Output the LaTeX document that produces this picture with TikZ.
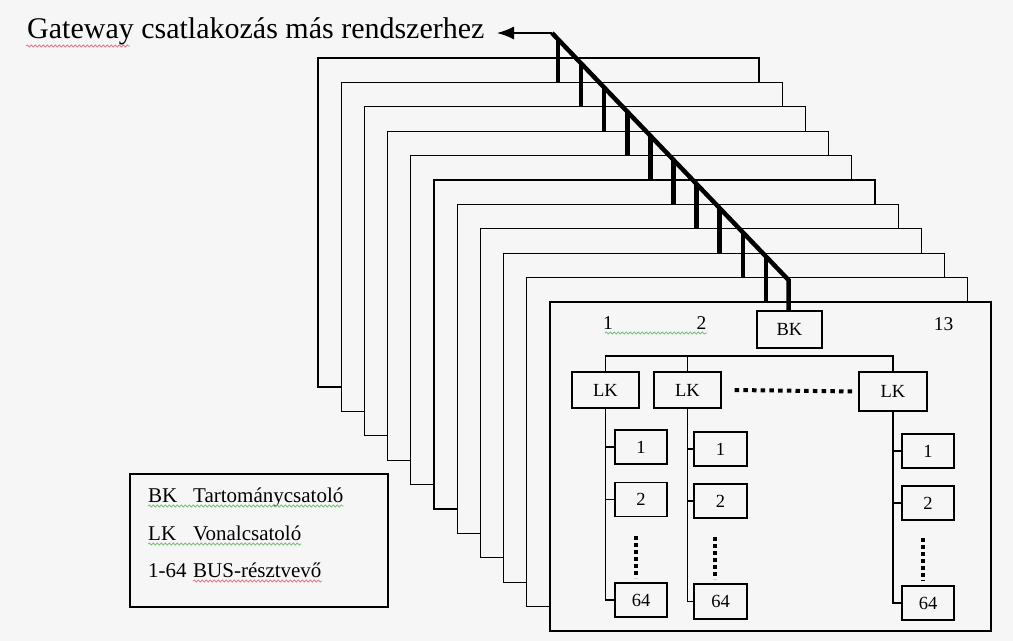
\documentclass[tikz,border=0pt]{standalone}
\usepackage{fontspec}
\setmainfont{Liberation Serif}
\usetikzlibrary{arrows.meta,decorations.pathmorphing,calc}
\definecolor{paper}{gray}{0.965}
\definecolor{wavegreen}{RGB}{125,190,125}
\definecolor{wavered}{RGB}{225,125,135}
\begin{document}
\begin{tikzpicture}[x=1pt,y=-1pt,
  frame/.style={draw=black,line width=1.3pt,fill=paper},
  thin/.style={draw=black,line width=1.2pt},
  bus/.style={line width=4.5pt,line cap=butt},
  box/.style={draw=black,line width=1.2pt,fill=paper,inner sep=0pt,font=\fontsize{18.5}{18.5}\selectfont},
  lbl/.style={font=\fontsize{19.5}{19.5}\selectfont,inner sep=0pt},
  legtext/.style={font=\fontsize{21}{21}\selectfont,inner sep=0pt,anchor=base west},
  dotsv/.style={line width=4.5pt,dash pattern=on 4pt off 3pt},
  dotsh/.style={line width=4pt,dash pattern=on 4.5pt off 4.2pt},
  wave/.style={decorate,decoration={snake,amplitude=1.1pt,segment length=4pt},line width=0.8pt},
]
\fill[paper] (0,0) rectangle (1013,641);
\useasboundingbox (0,0) rectangle (1013,641);

% stacked frames, back to front
\foreach \k in {0,...,10} {
  \path[frame] ({318+23.2*\k},{58+24.4*\k}) rectangle ++(441,329);
}

% title and gateway arrow
\node[anchor=base west,inner sep=0pt,font=\fontsize{30}{30}\selectfont] (title) at (27,38) {Gateway csatlakozás más rendszerhez};
\draw[wave,wavered] (26,46) -- (130,46);
\coordinate (gw) at (552,33);
\coordinate (tip) at (497,33);
\coordinate (bend) at (788.5,280);
\draw[line width=1.5pt,-{Latex[length=17pt,width=13pt]}] (gw) -- (tip);

% front frame contents
\node[box,minimum width=65pt,minimum height=37pt] (BK) at (789.5,329.5) {BK};
\node[lbl] (n1) at (608,323) {1};
\node[lbl] (n2) at (701.5,323) {2};
\node[lbl] (n13) at (943.5,324) {13};
\draw[wave,wavegreen] (605,333) -- (707,333);

\node[box,minimum width=67pt,minimum height=36pt] (LK1) at (605.5,390) {LK};
\node[box,minimum width=67pt,minimum height=36pt] (LK2) at (687.5,390) {LK};
\node[box,minimum width=68pt,minimum height=39pt] (LK3) at (893,391.5) {LK};
\coordinate (busy) at (700,356);
\draw[thin] (LK1.north) -- (LK1.north |- busy) -- (LK3.north |- busy) -- (LK3.north);
\draw[thin] (LK2.north) -- (LK2.north |- busy);
\draw[dotsh] ($(LK2.east)+(13,0)$) -- ($(LK3.west)+(-3,0)$);

% column 1
\node[box,minimum width=52pt,minimum height=34pt] (a1) at (641,447) {1};
\node[box,minimum width=52pt,minimum height=34pt] (a2) at (641,499.5) {2};
\node[box,minimum width=52pt,minimum height=34pt] (a64) at (641,600) {64};
\draw[thin] (LK1.south) |- (a64.west);
\draw[thin] (a1.west) -- (a1.west -| LK1.south);
\draw[thin] (a2.west) -- (a2.west -| LK1.south);
\draw[dotsv] (636,536) -- (636,578);
% column 2
\node[box,minimum width=53pt,minimum height=34pt] (b1) at (720.5,449) {1};
\node[box,minimum width=53pt,minimum height=34pt] (b2) at (720.5,501) {2};
\node[box,minimum width=53pt,minimum height=35pt] (b64) at (720.5,601.5) {64};
\draw[thin] (LK2.south) |- (b64.west);
\draw[thin] (b1.west) -- (b1.west -| LK2.south);
\draw[thin] (b2.west) -- (b2.west -| LK2.south);
\draw[dotsv] (715,537) -- (715,579);
% column 3
\node[box,minimum width=52pt,minimum height=34pt] (c1) at (928,451) {1};
\node[box,minimum width=52pt,minimum height=34pt] (c2) at (928,503) {2};
\node[box,minimum width=52pt,minimum height=34pt] (c64) at (928,603) {64};
\draw[thin] (LK3.south) |- (c64.west);
\draw[thin] (c1.west) -- (c1.west -| LK3.south);
\draw[thin] (c2.west) -- (c2.west -| LK3.south);
\draw[dotsv] (923,538) -- (923,581);

% backbone drops and diagonal
\foreach \k in {0,...,9} {
  \draw[bus] ({558+23.1*\k},{33+(6+23.1*\k)*1.0466}) -- ({558+23.1*\k},{58+24.4*(\k+1)});
}
\draw[bus,line join=miter] (gw) -- (bend) -- (bend |- BK.north);

% legend
\node[draw,line width=1.2pt,fill=paper,minimum width=258pt,minimum height=133pt,inner sep=0pt] (legend) at (259,540.5) {};
\node[legtext] (l1) at (148,502) {\makebox[45pt][l]{BK}Tartománycsatoló};
\node[legtext] (l2) at (148,540) {\makebox[45pt][l]{LK}Vonalcsatoló};
\node[legtext] (l3) at (148,577) {\makebox[45pt][l]{1-64}BUS-résztvevő};
\draw[wave,wavegreen] (148,506) -- (l1.base east |- 0,506);
\draw[wave,wavegreen] (148,544) -- (l2.base east |- 0,544);
\draw[wave,wavered] (193,581) -- (l3.base east |- 0,581);
\end{tikzpicture}
\end{document}
